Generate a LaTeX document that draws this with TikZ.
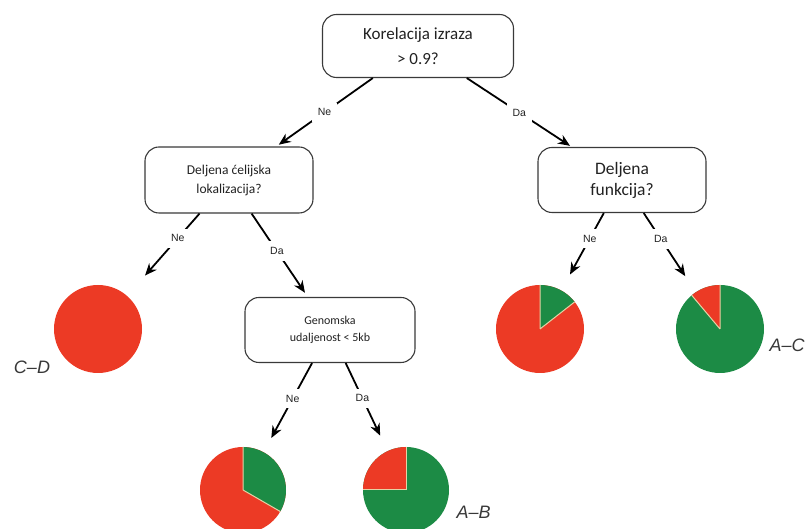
\documentclass[tikz,border=0pt]{standalone}
\usepackage{fontspec}
\setmainfont{Carlito}
\newfontfamily\arialfont{Liberation Sans}
\usetikzlibrary{arrows.meta}
\definecolor{boxborder}{HTML}{3A3A3A}
\definecolor{piered}{HTML}{EC3A25}
\definecolor{piegreen}{HTML}{1C8B45}
\definecolor{pieedge}{HTML}{E5D2A5}
\definecolor{textcolor}{HTML}{222222}
\tikzset{
  qbox/.style={
    draw=boxborder,
    fill=white,
    line width=1.1pt,
    rounded corners=14pt,
    align=center,
    text=textcolor,
    inner sep=4pt
  },
  pie/.style={
    circle,
    fill=piered,
    minimum size=88pt,
    inner sep=0pt
  },
  arrowd/.style={
    -{Stealth[length=12pt, width=10pt]},
    line width=1.8pt,
    color=black
  },
  answer/.style={
    fill=white,
    inner sep=6pt,
    text=textcolor,
    font=\arialfont\fontsize{10.5}{12}\selectfont
  },
  pairlabel/.style={
    text=textcolor!90,
    font=\arialfont\itshape\fontsize{18}{20}\selectfont
  },
  wedgeline/.style={
    draw=pieedge,
    line width=1pt
  }
}

\begin{document}
\begin{tikzpicture}[x=1pt, y=1pt]

  \useasboundingbox (0,0) rectangle (811,529);
  \clip (0,0) rectangle (811,529);

  % ==================== QUESTIONS ====================
  \node (q1) [qbox, minimum width=191pt, minimum height=63pt, font=\fontsize{17}{25}\selectfont] at (418,483) {Korelacija izraza\\> 0.9?};

  \node (q2) [qbox, minimum width=168pt, minimum height=66pt, font=\fontsize{13.5}{19}\selectfont] at (229,349) {Deljena ćelijska\\lokalizacija?};

  \node (q3) [qbox, minimum width=168pt, minimum height=65pt, font=\fontsize{17.5}{21}\selectfont] at (622,349) {Deljena\\funkcija?};

  \node (q4) [qbox, minimum width=170pt, minimum height=65pt, font=\fontsize{12}{17}\selectfont] at (330,199) {Genomska\\udaljenost < 5kb};

  % ==================== PIES ====================
  \node (pCD) [pie] at (98,200) {};

  \node (pNe) [pie] at (540,200) {};
  \fill [piegreen] (pNe.center) -- ++(38:44) arc[start angle=38, end angle=90, radius=44] -- cycle;
  \draw [wedgeline] (pNe.center) -- ++(38:44) (pNe.center) -- ++(90:44);

  \node (pDa) [pie, fill=piegreen] at (720,200) {};
  \fill [piered] (pDa.center) -- ++(90:44) arc[start angle=90, end angle=130, radius=44] -- cycle;
  \draw [wedgeline] (pDa.center) -- ++(90:44) (pDa.center) -- ++(130:44);

  \node (pGNe) [pie, minimum size=86pt] at (243,39) {};
  \fill [piegreen] (pGNe.center) -- ++(-30:43) arc[start angle=-30, end angle=90, radius=43] -- cycle;
  \draw [wedgeline] (pGNe.center) -- ++(-30:43) (pGNe.center) -- ++(90:43);

  \node (pGDa) [pie, minimum size=86pt, fill=piegreen] at (406,39) {};
  \fill [piered] (pGDa.center) -- ++(90:43) arc[start angle=90, end angle=180, radius=43] -- cycle;
  \draw [wedgeline] (pGDa.center) -- ++(90:43) (pGDa.center) -- ++(180:43);

  % Pair labels
  \node (lCD) [pairlabel] at (32,162) {C–D};
  \node (lAC) [pairlabel, anchor=west] at (766,184) {A–C};
  \node (lAB) [pairlabel, anchor=west] at (453,17) {A–B};

  % Connectors
  \draw [arrowd, shorten >=3pt] (q1) -- (q2) node[answer, midway] {Ne};
  \draw [arrowd, shorten >=2pt] (q1) -- (q3) node[answer, midway] {Da};

  \draw [arrowd, shorten >=27pt] (q2) -- (pCD) node[answer, pos=0.3] {Ne};
  \draw [arrowd, shorten >=5pt] (q2) -- (q4) node[answer, pos=0.45] {Da};

  \draw [arrowd, shorten >=18pt] (q3) -- (pNe) node[answer, pos=0.33] {Ne};
  \draw [arrowd, shorten >=19pt] (q3) -- (pDa) node[answer, pos=0.33] {Da};

  \draw [arrowd, shorten >=16pt] (q4) -- (pGNe) node[answer, pos=0.4] {Ne};
  \draw [arrowd, shorten >=17pt] (q4) -- (pGDa) node[answer, pos=0.4] {Da};

\end{tikzpicture}
\end{document}
